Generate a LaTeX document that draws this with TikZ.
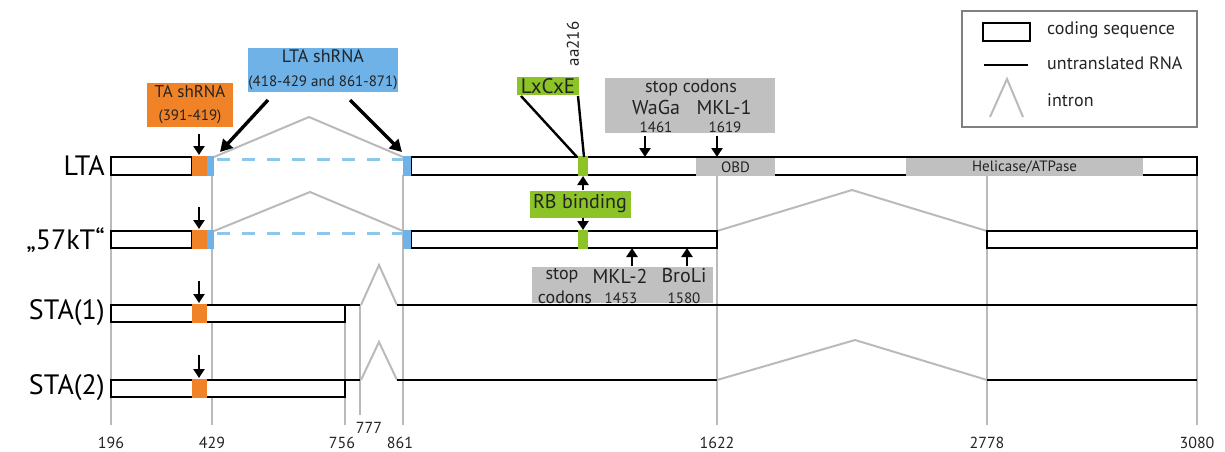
\documentclass[tikz,border=0pt]{standalone}
\usepackage{fontspec}
\setmainfont{PT Sans}
\usetikzlibrary{arrows.meta,positioning}
\definecolor{taorange}{RGB}{240,130,40}
\definecolor{ltablue}{RGB}{110,178,232}
\definecolor{dashblue}{RGB}{140,200,236}
\definecolor{rbgreen}{RGB}{140,196,40}
\definecolor{boxgray}{RGB}{192,192,192}
\definecolor{linegray}{RGB}{186,186,186}
\definecolor{framegray}{RGB}{128,128,128}
\definecolor{txt}{RGB}{35,35,35}
\newcommand{\fsz}[1]{\fontsize{#1}{#1}\selectfont}

\begin{document}
\begin{tikzpicture}[x=1pt,y=-1pt,
  cds/.style={draw=black,line width=2.4pt,fill=white},
  utr/.style={black,line width=2.4pt},
  intron/.style={linegray,line width=2pt},
  guide/.style={linegray,line width=1.8pt},
  dashlink/.style={dashblue,line width=3pt,dash pattern=on 13pt off 12pt},
  rowlabel/.style={anchor=east,inner sep=0pt,text=black,font=\fsz{28}},
  axislabel/.style={inner sep=0pt,text=txt,font=\fsz{16}},
  tag/.style={inner sep=0pt,align=center,text=txt},
  word/.style={inner sep=0pt,text=txt},
  hit/.style={-{Triangle[width=11pt,length=9pt]},line width=2.8pt},
  pointer/.style={-{Triangle[width=13pt,length=12pt]},line width=3.4pt},
  tie/.style={line width=2.4pt}
]
  \useasboundingbox (0,0) rectangle (1225,452);

  % guide lines and positions
  \foreach \xx/\top/\bot in {111/175/425,212/175/425,345/305/425,360/305/415,
                             403/175/425,717/175/425,987/175/425,1197/175/425}
    \draw[guide] (\xx,\top) -- (\xx,\bot);
  \node[axislabel] (p196)  at (111,443) {196};
  \node[axislabel] (p429)  at (212,443) {429};
  \node[axislabel] (p756)  at (342,443) {756};
  \node[axislabel] (p777)  at (369,428) {777};
  \node[axislabel] (p861)  at (400,443) {861};
  \node[axislabel] (p1622) at (717,443) {1622};
  \node[axislabel] (p2778) at (987,443) {2778};
  \node[axislabel] (p3080) at (1197,443) {3080};

  % LTA
  \node[rowlabel] (lta) at (105,166) {LTA};
  \draw[intron] (214,157) -- (309,117) -- (403,157);
  \draw[cds] (111,157) rectangle (192,175);
  \draw[cds] (411,157) rectangle (1197,175);
  \fill[taorange] (192,155.8) rectangle (207,176.2);
  \fill[ltablue] (207,155.8) rectangle (214,176.2);
  \fill[ltablue] (403,155.8) rectangle (411,176.2);
  \draw[dashlink] (217,159) -- (403,159);
  \fill[rbgreen] (578,155.8) rectangle (588,176.2);
  \fill[boxgray] (696,158.4) rectangle (775,176.2);
  \node[word,font=\fsz{15}] (obd) at (735.5,167.5) {OBD};
  \fill[boxgray] (906,158.4) rectangle (1143,176.2);
  \node[word,font=\fsz{15}] (heli) at (1024.5,167.5) {Helicase/ATPase};

  % 57kT
  \node[rowlabel] (kt) at (105,240) {„57kT“};
  \draw[intron] (214,231) -- (310,192) -- (403,231);
  \draw[intron] (717,231) -- (852,190) -- (987,231);
  \draw[cds] (111,231) rectangle (192,248);
  \draw[cds] (411,231) rectangle (717,248);
  \draw[cds] (987,231) rectangle (1197,248);
  \fill[taorange] (192,229.8) rectangle (207,249.2);
  \fill[ltablue] (207,229.8) rectangle (214,249.2);
  \fill[ltablue] (403,229.8) rectangle (411,249.2);
  \draw[dashlink] (217,233) -- (403,233);
  \fill[rbgreen] (578,229.8) rectangle (588,249.2);

  % STA(1)
  \node[rowlabel] (sta1) at (105,313) {STA(1)};
  \draw[cds] (111,305) rectangle (345,322);
  \fill[taorange] (192,303.8) rectangle (207,323.2);
  \draw[utr] (345,305) -- (360,305);
  \draw[intron] (361,305) -- (379,265) -- (397,305);
  \draw[utr] (397,305) -- (1197,305);

  % STA(2)
  \node[rowlabel] (sta2) at (105,388) {STA(2)};
  \draw[cds] (111,380) rectangle (345,397);
  \fill[taorange] (192,378.8) rectangle (207,398.2);
  \draw[utr] (345,380) -- (360,380);
  \draw[intron] (361,380) -- (379,342) -- (397,380);
  \draw[utr] (397,380) -- (717,380);
  \draw[intron] (717,380) -- (855,340) -- (987,380);
  \draw[utr] (987,380) -- (1197,380);

  % shRNA targets
  \node[tag,fill=taorange,minimum width=86pt,minimum height=44pt,font=\fsz{17}] (tash) at (190,105)
    {TA shRNA\\[6pt]{\fsz{15}(391-419)}};
  \node[tag,fill=ltablue,minimum width=150pt,minimum height=44pt,font=\fsz{18}] (ltash) at (323,70)
    {LTA shRNA\\[6pt]{\fsz{15}(418-429 and 861-871)}};
  \foreach \row/\ya/\yb in {a/134/155,b/207/229,c/281/303,d/355/378}{
    \coordinate (ta\row) at (199,\ya);
    \coordinate (tb\row) at (199,\yb);
    \draw[hit] (ta\row) -- (tb\row);
  }
  \coordinate (lsa) at (268,100);
  \coordinate (lsb) at (220,152);
  \coordinate (lsc) at (350,100);
  \coordinate (lsd) at (402,152);
  \draw[pointer] (lsa) -- (lsb);
  \draw[pointer] (lsc) -- (lsd);

  % RB binding motif
  \node[tag,fill=rbgreen,minimum width=62pt,minimum height=18pt,font=\fsz{21}] (lxcxe) at (548,86) {LxCxE};
  \node[word,rotate=90,font=\fsz{17}] (aa) at (573,44) {aa216};
  \coordinate (lxa) at (521,96);
  \coordinate (lxb) at (577,157);
  \coordinate (lxc) at (578,96);
  \coordinate (lxd) at (584,157);
  \draw[tie] (lxa) -- (lxb);
  \draw[tie] (lxc) -- (lxd);
  \node[tag,fill=rbgreen,minimum width=101pt,minimum height=27pt,font=\fsz{20}] (rb) at (580,204) {RB binding};
  \coordinate (rbup) at (583,176);
  \coordinate (rbdn) at (583,230);
  \draw[hit] (rb.north -| rbup) -- (rbup);
  \draw[hit] (rb.south -| rbdn) -- (rbdn);

  % stop codons LTA
  \node[fill=boxgray,minimum width=170pt,minimum height=55pt,inner sep=0pt] (stopa) at (690,105.5) {};
  \node[word,font=\fsz{18}] (stopt) at (691,88) {stop codons};
  \node[word,font=\fsz{20}] (waga) at (656,107) {WaGa};
  \node[word,font=\fsz{20}] (mkla) at (724,107) {MKL-1};
  \node[word,font=\fsz{15}] (n1461) at (656,127) {1461};
  \node[word,font=\fsz{15}] (n1619) at (725,127) {1619};
  \coordinate (sa1) at (645,136);
  \coordinate (sb1) at (645,157);
  \coordinate (sa2) at (717,136);
  \coordinate (sb2) at (717,157);
  \draw[hit] (sa1) -- (sb1);
  \draw[hit] (sa2) -- (sb2);

  % stop codons 57kT
  \node[fill=boxgray,minimum width=181pt,minimum height=36pt,inner sep=0pt] (stopb) at (622.5,285) {};
  \node[word,font=\fsz{18}] (stopw) at (562,276) {stop};
  \node[word,font=\fsz{18}] (codw) at (565,297) {codons};
  \node[word,font=\fsz{20}] (mklb) at (620,276) {MKL-2};
  \node[word,font=\fsz{15}] (n1453) at (621,298) {1453};
  \node[word,font=\fsz{20}] (broli) at (684,276) {BroLi};
  \node[word,font=\fsz{15}] (n1580) at (684,298) {1580};
  \coordinate (sc1) at (632,266);
  \coordinate (sd1) at (632,248);
  \coordinate (sc2) at (687,266);
  \coordinate (sd2) at (687,248);
  \draw[hit] (sc1) -- (sd1);
  \draw[hit] (sc2) -- (sd2);

  % legend
  \node[draw=framegray,line width=2pt,minimum width=235pt,minimum height=116pt,inner sep=0pt] (legend) at (1079.5,69) {};
  \draw[cds] (983,23) rectangle (1030,41);
  \node[word,anchor=west,font=\fsz{18}] (lcds) at (1047,30) {coding sequence};
  \draw[utr] (984,65) -- (1028,65);
  \node[word,anchor=west,font=\fsz{18}] (lutr) at (1047,63) {untranslated RNA};
  \draw[intron] (990,117) -- (1007,79) -- (1023,117);
  \node[word,anchor=west,font=\fsz{18}] (lint) at (1047,100) {intron};
\end{tikzpicture}
\end{document}
